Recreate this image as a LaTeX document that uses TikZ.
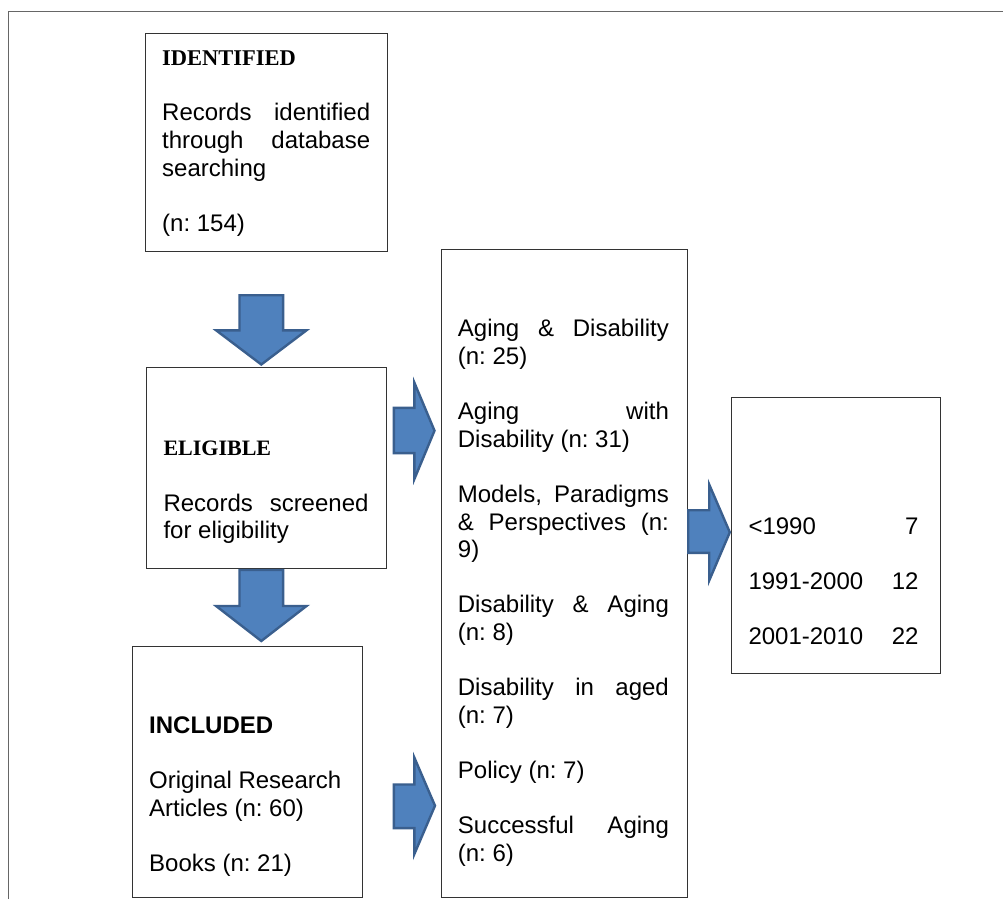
\documentclass[tikz,border=0pt]{standalone}
\usepackage{fontspec}
\setmainfont{Liberation Sans}
\newfontfamily\hdfont{Liberation Serif}
\definecolor{arrowfill}{HTML}{4F81BD}
\definecolor{arrowline}{HTML}{3A5F8E}
\newcommand\rs{\spaceskip=0pt\xspaceskip=0pt\frenchspacing}
\newcommand\jl[2]{\makebox[#1][s]{\rs #2}}
\newcommand\fst{\rule{0pt}{20pt}}
\begin{document}
\begin{tikzpicture}[x=1pt,y=-1pt,
  box/.style={draw=black!80, line width=1.2pt, fill=white, anchor=north west, inner sep=0pt},
  txt/.style={anchor=north west, inner sep=0pt, align=left, font=\fontsize{24pt}{27.6pt}\selectfont},
  blockarrow/.style={fill=arrowfill, draw=arrowline, line width=2.4pt, line join=miter},
  frame/.style={draw=black!60, line width=1.5pt}]
\useasboundingbox (0,0) rectangle (1003,899);
\fill[white] (0,0) rectangle (1003,899);
% outer frame
\draw[frame] (8.3,899) -- (8.3,11.7) -- (1003,11.7);

% boxes
\node[box, minimum width=242pt, minimum height=218pt] (ident) at (145,33) {};
\node[box, minimum width=240pt, minimum height=201pt] (elig) at (146,367) {};
\node[box, minimum width=230pt, minimum height=251pt] (incl) at (132,646) {};
\node[box, minimum width=246pt, minimum height=648pt] (topics) at (441,249) {};
\node[box, minimum width=209pt, minimum height=276pt] (dates) at (731,397) {};

% texts
\node[txt, text width=208pt] (identtxt) at (162,45.5) {\rs\fst{\hdfont\bfseries\fontsize{22.5pt}{27.6pt}\selectfont IDENTIFIED}\\[27.6pt]
\jl{208pt}{Records identified}\\
\jl{208pt}{through database}\\
searching\\[27.6pt]
(n: 154)};

\node[txt, text width=205pt] (eligtxt) at (163.3,435.7) {\rs\fst{\hdfont\bfseries\fontsize{22pt}{27.6pt}\selectfont ELIGIBLE}\\[27.6pt]
\jl{205pt}{Records screened}\\
for eligibility};

\node[txt, text width=200pt] (incltxt) at (149,713) {\rs\fst\textbf{INCLUDED}\\[27.6pt]
Original Research\\
Articles (n: 60)\\[27.6pt]
Books (n: 21)};

\node[txt, text width=211pt] (topicstxt) at (457.7,316.7) {\rs\fst\jl{211pt}{Aging \& Disability}\\
(n: 25)\\[27.6pt]
\jl{211pt}{Aging with}\\
Disability (n: 31)\\[27.6pt]
\jl{211pt}{Models, Paradigms}\\
\jl{211pt}{\& Perspectives (n:}\\
9)\\[27.6pt]
\jl{211pt}{Disability \& Aging}\\
(n: 8)\\[27.6pt]
\jl{211pt}{Disability in aged}\\
(n: 7)\\[27.6pt]
Policy (n: 7)\\[27.6pt]
\jl{211pt}{Successful Aging}\\
(n: 6)};

\node[txt, text width=170pt] (datestxt) at (748.3,514) {\rs\fst\makebox[170pt]{<1990\hfill 7}\\[27.6pt]
\makebox[170pt]{1991-2000\hfill 12}\\[27.6pt]
\makebox[170pt]{2001-2010\hfill 22}};

% block arrows
\draw[blockarrow] (239.5,295.2) -- (283.1,295.2) -- (283.1,330.3) -- (306.5,330.3) -- (261.3,364.5) -- (216.1,330.3) -- (239.5,330.3) -- cycle;
\draw[blockarrow] (239.5,570) -- (283.1,570) -- (283.1,606) -- (306.5,606) -- (261.3,641) -- (216.1,606) -- (239.5,606) -- cycle;
\draw[blockarrow] (393.9,407.9) -- (414.3,407.9) -- (414.3,382.5) -- (434.5,430.7) -- (414.3,479.2) -- (414.3,453.1) -- (393.9,453.1) -- cycle;
\draw[blockarrow] (393.9,784.5) -- (414.3,784.5) -- (414.3,757.5) -- (435,805.7) -- (414.3,854.2) -- (414.3,828.1) -- (393.9,828.1) -- cycle;
\draw[blockarrow] (688.2,510.2) -- (709.2,510.2) -- (709.2,484.5) -- (729.8,532.3) -- (709.2,580.5) -- (709.2,552.8) -- (688.2,552.8) -- cycle;
\end{tikzpicture}
\end{document}
